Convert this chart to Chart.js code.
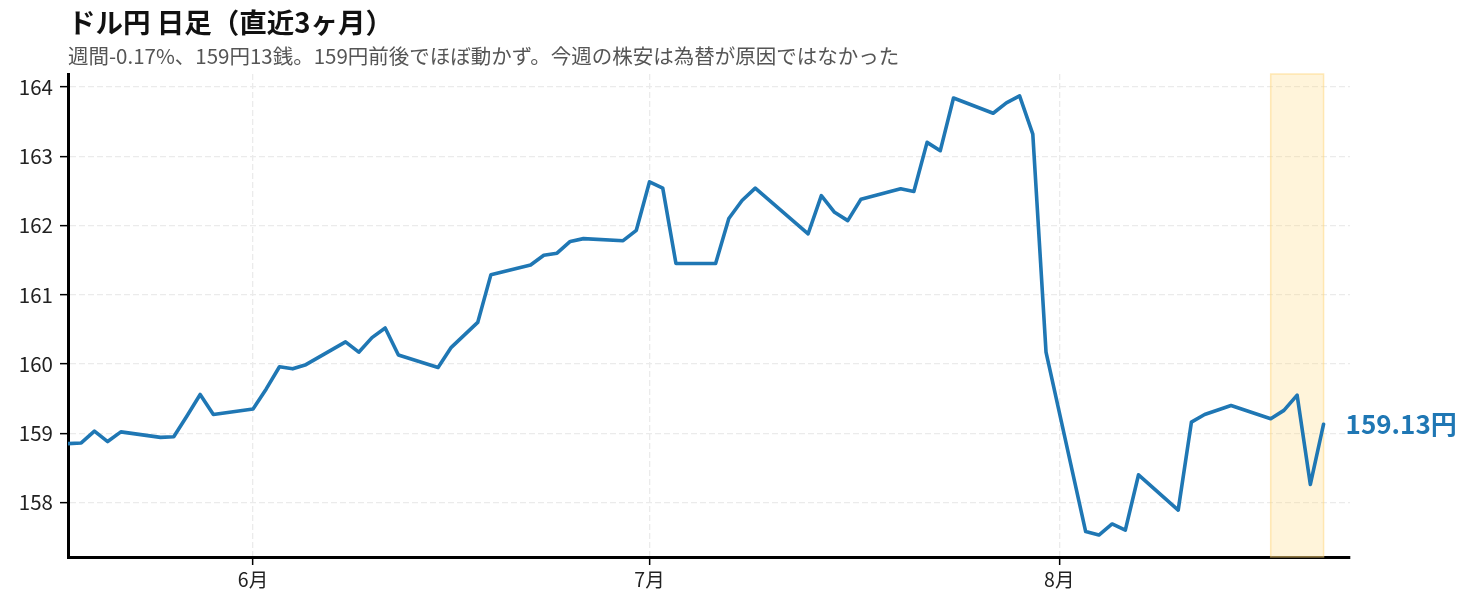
<!DOCTYPE html>
<html><head><meta charset="utf-8">
<script src="https://cdn.jsdelivr.net/npm/chart.js@4.4.1/dist/chart.umd.min.js"></script>
<style>html,body{margin:0;padding:0;background:#fff;}#wrap{width:1473px;height:607px;position:relative;}</style>
</head><body><div id="wrap"><canvas id="c" width="1473" height="607"></canvas></div>
<script>
const titleText = 'ドル円 日足（直近3ヶ月）';
const subtitleText = '週間-0.17%、159円13銭。159円前後でほぼ動かず。今週の株安は為替が原因ではなかった';
const dates = [
 '2026-05-18','2026-05-19','2026-05-20','2026-05-21','2026-05-22',
 '2026-05-25','2026-05-26','2026-05-27','2026-05-28','2026-05-29',
 '2026-06-01','2026-06-02','2026-06-03','2026-06-04','2026-06-05',
 '2026-06-08','2026-06-09','2026-06-10','2026-06-11','2026-06-12',
 '2026-06-15','2026-06-16','2026-06-17','2026-06-18','2026-06-19',
 '2026-06-22','2026-06-23','2026-06-24','2026-06-25','2026-06-26',
 '2026-06-29','2026-06-30','2026-07-01','2026-07-02','2026-07-03',
 '2026-07-06','2026-07-07','2026-07-08','2026-07-09',
 '2026-07-13','2026-07-14','2026-07-15','2026-07-16','2026-07-17',
 '2026-07-20','2026-07-21','2026-07-22','2026-07-23','2026-07-24',
 '2026-07-27','2026-07-28','2026-07-29','2026-07-30','2026-07-31',
 '2026-08-03','2026-08-04','2026-08-05','2026-08-06','2026-08-07',
 '2026-08-10','2026-08-11','2026-08-12','2026-08-14',
 '2026-08-17','2026-08-18','2026-08-19','2026-08-20','2026-08-21'
];
const rates = [
 158.85,158.86,159.03,158.88,159.02,
 158.94,158.95,159.25,159.56,159.27,
 159.35,159.64,159.96,159.93,159.99,
 160.32,160.17,160.38,160.52,160.13,
 159.95,160.24,160.42,160.60,161.29,
 161.43,161.57,161.60,161.77,161.81,
 161.78,161.93,162.63,162.54,161.45,
 161.45,162.10,162.36,162.54,
 161.88,162.43,162.19,162.07,162.38,
 162.53,162.49,163.20,163.08,163.84,
 163.62,163.77,163.87,163.32,160.17,
 157.58,157.53,157.69,157.60,158.40,
 157.89,159.16,159.27,159.40,
 159.21,159.33,159.55,158.26,159.13
];
const monthTicks = ['2026-06-01','2026-07-01','2026-08-01'];
const monthLabels = ['6月','7月','8月'];
const yTicks = [158,159,160,161,162,163,164];
const highlightWeek = ['2026-08-17','2026-08-21'];
const xRange = ['2026-05-18','2026-08-23'];
const yRange = [157.213, 164.187];
const lastLabel = '159.13円';

const DAY = 86400000;
function dayNum(s){ const p = s.split('-').map(Number); return Date.UTC(p[0],p[1]-1,p[2])/DAY; }
const FONT = '"Noto Sans CJK JP", "Noto Sans", sans-serif';
const points = dates.map((d,i)=>({x:dayNum(d), y:rates[i]}));

const decor = {
  id:'decor',
  beforeDatasetsDraw(chart){
    const {ctx, chartArea:a, scales:{x}} = chart;
    const x0 = x.getPixelForValue(dayNum(highlightWeek[0]));
    const x1 = x.getPixelForValue(dayNum(highlightWeek[1]));
    ctx.save();
    ctx.fillStyle = 'rgba(255,214,120,0.27)';
    ctx.fillRect(x0, a.top, x1-x0, a.bottom-a.top);
    ctx.strokeStyle = 'rgba(255,214,120,0.5)';
    ctx.lineWidth = 1.5;
    ctx.strokeRect(x0, a.top, x1-x0, a.bottom-a.top);
    ctx.restore();
  },
  afterDatasetsDraw(chart){
    const {ctx} = chart;
    const meta = chart.getDatasetMeta(0);
    const p = meta.data[meta.data.length-1];
    ctx.save();
    ctx.font = 'bold 26px ' + FONT;
    ctx.fillStyle = '#1f77b4';
    ctx.textAlign = 'left';
    ctx.textBaseline = 'middle';
    ctx.fillText(lastLabel, p.x + 22, p.y);
    ctx.restore();
  },
  afterDraw(chart){
    const {ctx, chartArea:a} = chart;
    ctx.save();
    ctx.textAlign = 'left';
    ctx.textBaseline = 'middle';
    ctx.fillStyle = '#111';
    ctx.font = 'bold 27.5px ' + FONT;
    ctx.fillText(titleText, a.left, 23);
    ctx.fillStyle = '#555';
    ctx.font = '20.5px ' + FONT;
    ctx.fillText(subtitleText, a.left, 56);
    ctx.restore();
  }
};

new Chart(document.getElementById('c'), {
  type:'line',
  data:{datasets:[{data:points, borderColor:'#1f77b4', borderWidth:3.6, pointRadius:0, tension:0,
    borderJoinStyle:'round', borderCapStyle:'round', fill:false}]},
  options:{
    responsive:false, animation:false, devicePixelRatio:1,
    layout:{padding:{left:0, right:123, top:74, bottom:0}},
    plugins:{legend:{display:false}, tooltip:{enabled:false}, title:{display:false}},
    scales:{
      x:{type:'linear', min:dayNum(xRange[0]), max:dayNum(xRange[1]),
        afterBuildTicks(s){ s.ticks = monthTicks.map(d=>({value:dayNum(d)})); },
        afterFit(s){ s.height = 50; },
        ticks:{autoSkip:false, maxRotation:0, padding:3, color:'#222', font:{family:FONT, size:19.5},
          callback:(v,i)=>monthLabels[i]},
        grid:{color:'#ebebeb', lineWidth:1.3, tickColor:'#000', tickLength:8, tickWidth:1.5},
        border:{display:true, color:'#000', width:3, dash:[6,3]}
      },
      y:{type:'linear', min:yRange[0], max:yRange[1],
        afterBuildTicks(s){ s.ticks = yTicks.map(v=>({value:v})); },
        afterFit(s){ s.width = 68; },
        ticks:{padding:7, color:'#222', font:{family:FONT, size:20.5}, callback:v=>String(v)},
        grid:{color:'#ebebeb', lineWidth:1.3, tickColor:'#000', tickLength:8, tickWidth:1.5},
        border:{display:true, color:'#000', width:3, dash:[6,3]}
      }
    }
  },
  plugins:[decor]
});
</script></body></html>
